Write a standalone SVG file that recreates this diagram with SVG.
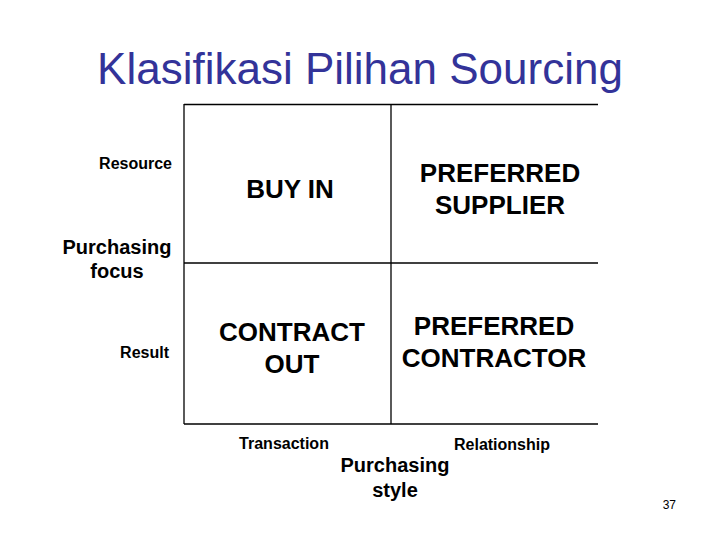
<svg xmlns="http://www.w3.org/2000/svg" width="720" height="540" viewBox="0 0 720 540">
<style>
text{font-family:"Liberation Sans",Arial,sans-serif;fill:#000}
.t{font-size:44px;fill:#333399}
.c{font-size:26px;font-weight:bold;text-anchor:middle}
.s{font-size:16px;font-weight:bold}
.m{font-size:20px;font-weight:bold;text-anchor:middle}
line{stroke:#000;stroke-width:1.3}
</style>
<rect width="720" height="540" fill="#fff"/>
<text class="t" x="360" y="84" text-anchor="middle">Klasifikasi Pilihan Sourcing</text>
<g id="connectors">
<line x1="184" y1="104.5" x2="598" y2="104.5"/>
<line x1="184" y1="104" x2="184" y2="424"/>
<line x1="184" y1="424" x2="598" y2="424"/>
<line x1="391" y1="104" x2="391" y2="424"/>
<line x1="184" y1="263" x2="598" y2="263"/>
</g>
<g id="buyin"><text class="c" x="290" y="198">BUY IN</text></g>
<g id="prefsup"><text class="c" x="500" y="182">PREFERRED</text><text class="c" x="500" y="214">SUPPLIER</text></g>
<g id="contract"><text class="c" x="292" y="341">CONTRACT</text><text class="c" x="292" y="373">OUT</text></g>
<g id="prefcon"><text class="c" x="494" y="335">PREFERRED</text><text class="c" x="494" y="367">CONTRACTOR</text></g>
<g id="axes">
<text class="s" x="172" y="169" text-anchor="end">Resource</text>
<text class="m" x="117" y="254">Purchasing</text>
<text class="m" x="117" y="278">focus</text>
<text class="s" x="169" y="358" text-anchor="end">Result</text>
<text class="s" x="284" y="449" text-anchor="middle">Transaction</text>
<text class="s" x="502" y="450" text-anchor="middle">Relationship</text>
<text class="m" x="395" y="472">Purchasing</text>
<text class="m" x="395" y="497">style</text>
</g>
<text x="676" y="509" font-size="12" text-anchor="end">37</text>
</svg>
